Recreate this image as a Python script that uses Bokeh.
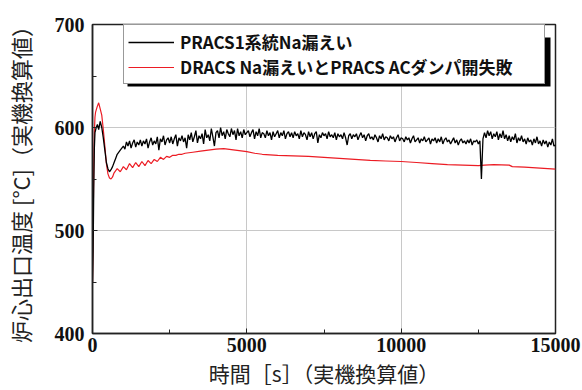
from bokeh.plotting import figure
from bokeh.models import Legend, LegendItem, FixedTicker, Range1d, BoxAnnotation
from bokeh.embed import file_html
from bokeh.resources import INLINE

# Core outlet temperature transients (plant-equivalent values)
black_early_time = [0, 20, 40, 60, 80, 120, 160, 200, 250, 300, 350, 400, 450,
                    500, 550, 600, 650, 700, 750, 800, 900, 1000]
black_early_temp = [450, 480, 540, 580, 595, 600, 603, 598, 606, 600, 590, 578, 566,
                    560, 557, 559, 562, 566, 570, 574, 578, 582]
# after 1000 s the PRACS1 trace is sampled every 50 s (one row = 500 s)
black_steady_time = list(range(1050, 15001, 50))
black_steady_temp = [
    579, 586, 582, 587, 580, 585, 588, 581, 586, 583,
    588, 582, 587, 584, 589, 580, 586, 590, 583, 587,
    584, 591, 578, 589, 586, 592, 583, 588, 590, 585,
    591, 584, 589, 593, 582, 590, 587, 592, 586, 590,
    580, 593, 588, 595, 586, 591, 597, 585, 592, 589,
    594, 584, 598, 590, 593, 587, 599, 591, 582, 595,
    597, 590, 600, 592, 596, 589, 598, 594, 591, 599,
    593, 597, 588, 599, 592, 596, 590, 598, 593, 595,
    597, 591, 595, 598, 589, 596, 592, 599, 590, 595,
    594, 590, 597, 592, 595, 588, 596, 591, 594, 597,
    590, 595, 592, 597, 589, 594, 596, 591, 595, 590,
    596, 592, 594, 589, 597, 591, 595, 593, 588, 596,
    591, 595, 589, 594, 596, 585, 593, 590, 595, 592,
    594, 589, 596, 591, 593, 590, 595, 588, 594, 591,
    593, 589, 595, 590, 583, 592, 594, 589, 593, 591,
    594, 588, 592, 595, 590, 593, 587, 592, 594, 589,
    591, 588, 593, 590, 586, 592, 589, 594, 588, 591,
    590, 587, 592, 589, 591, 586, 590, 593, 587, 590,
    589, 586, 591, 588, 590, 585, 589, 592, 586, 588,
    590, 585, 589, 587, 591, 586, 588, 590, 584, 589,
    587, 590, 585, 589, 586, 591, 584, 588, 590, 586,
    588, 584, 587, 590, 585, 588, 583, 587, 589, 585,
    587, 584, 588, 585, 589, 583, 587, 586, 588, 584,
    587, 550, 589, 595, 590, 597, 592, 596, 589, 594,
    591, 596, 588, 594, 590, 597, 589, 593, 587, 592,
    586, 591, 588, 594, 585, 590, 587, 592, 586, 589,
    584, 590, 586, 588, 583, 589, 585, 591, 584, 587,
    582, 588, 584, 587, 581, 586, 583, 589, 582, 583,
]
black_time = black_early_time + black_steady_time
black_temp = black_early_temp + black_steady_temp

red_time = [0, 20, 40, 60, 80, 100, 150, 200, 250, 300, 350, 400, 450, 500, 550,
            600, 650, 700, 800, 900, 1000, 1100, 1200, 1300, 1400, 1500, 1600,
            1700, 1800, 1900, 2000, 2100, 2200, 2300, 2400, 2500, 2600, 2700,
            2800, 2900, 3000, 3250, 3500, 3750, 4000, 4250, 4500, 4750, 5000,
            5250, 5500, 6000, 6500, 7000, 7500, 8000, 8500, 9000, 9500, 10000,
            10500, 11000, 11500, 12000, 12500, 12700, 13000, 13500, 13600,
            14000, 14500, 15000]
red_temp = [450, 500, 560, 595, 610, 615, 620, 624, 618, 612, 598, 582, 565, 555, 551,
            550, 552, 556, 560, 557, 562, 559, 565, 561, 566, 562, 567,
            563, 568, 565, 569, 567, 571, 569, 572, 571, 573, 573,
            574, 574, 575, 576, 577, 578, 579, 579.5, 578.5, 577.5, 576.5,
            575, 574, 573, 572.5, 572, 571, 570, 569, 568, 567.5, 567,
            566, 565, 564, 563.5, 563, 563.5, 564, 563.5, 562,
            561.5, 560.5, 559.5]

series_labels = ["PRACS1系統Na漏えい", "DRACS Na漏えいとPRACS ACダンパ開失敗"]
x_ticks = [0, 5000, 10000, 15000]
y_ticks = [400, 500, 600, 700]

x_label = "時間［s］（実機換算値）"
y_label = "炉心出口温度 [°C]（実機換算値）"

p = figure(width=582, height=390, output_backend="svg", toolbar_location=None,
           x_range=Range1d(0, 15000), y_range=Range1d(400, 700),
           min_border_left=92, min_border_right=27, min_border_top=24,
           min_border_bottom=57)
p.background_fill_color = "white"
p.border_fill_color = "white"
p.outline_line_color = "#222222"
p.outline_line_width = 1.5

rr = p.line(red_time, red_temp, line_color="#ec1c24", line_width=1.2)
rb = p.line(black_time, black_temp, line_color="#000000", line_width=1.3)

for ax, ticks in ((p.xaxis[0], x_ticks), (p.yaxis[0], y_ticks)):
    ax.ticker = FixedTicker(ticks=ticks, minor_ticks=[t + (ticks[1] - ticks[0]) / 2 for t in ticks[:-1]])
    ax.major_label_text_font = "Liberation Serif"
    ax.major_label_text_font_style = "bold"
    ax.major_label_text_font_size = "20px"
    ax.major_label_text_color = "#111111"
    ax.axis_line_color = "#222222"
    ax.axis_line_width = 1.5
    ax.major_tick_in = 5
    ax.major_tick_out = 0
    ax.minor_tick_in = 4
    ax.minor_tick_out = 0
    ax.major_tick_line_color = "#222222"
    ax.minor_tick_line_color = "#222222"
    ax.axis_label_text_font = "Noto Sans CJK JP"
    ax.axis_label_text_font_style = "normal"
    ax.axis_label_text_color = "#222222"

p.xaxis.axis_label = x_label
p.xaxis.axis_label_text_font_size = "21px"
p.xaxis.major_label_standoff = 4
p.xaxis.axis_label_standoff = 3

p.yaxis.axis_label = y_label
p.yaxis.axis_label_text_font_size = "22px"
p.yaxis.major_label_standoff = 8
p.yaxis.axis_label_standoff = 16

p.xgrid.ticker = FixedTicker(ticks=[5000, 10000])
p.ygrid.ticker = FixedTicker(ticks=[500, 600])
for g in (p.xgrid[0], p.ygrid[0]):
    g.grid_line_color = "#c8c8c8"
    g.grid_line_width = 1

# drop shadow behind the legend box (canvas pixels)
shadow = BoxAnnotation(left=127, right=550, top=37, bottom=86,
                       left_units="canvas", right_units="canvas",
                       top_units="canvas", bottom_units="canvas",
                       fill_color="black", fill_alpha=1.0, line_color=None)
p.add_layout(shadow)

legend = Legend(items=[LegendItem(label=series_labels[0], renderers=[rb]),
                       LegendItem(label=series_labels[1], renderers=[rr])],
                location=(31, 249), orientation="vertical",
                padding=4, spacing=0, margin=0,
                glyph_width=46, glyph_height=16, label_height=16,
                label_standoff=6, label_width=360,
                label_text_font="Noto Sans CJK JP",
                label_text_font_style="bold",
                label_text_font_size="17px",
                label_text_color="#111111",
                border_line_color="#333333", border_line_width=1.2,
                background_fill_color="white", background_fill_alpha=1.0)
p.add_layout(legend, "center")

open("out.html", "w").write(file_html(p, INLINE))
